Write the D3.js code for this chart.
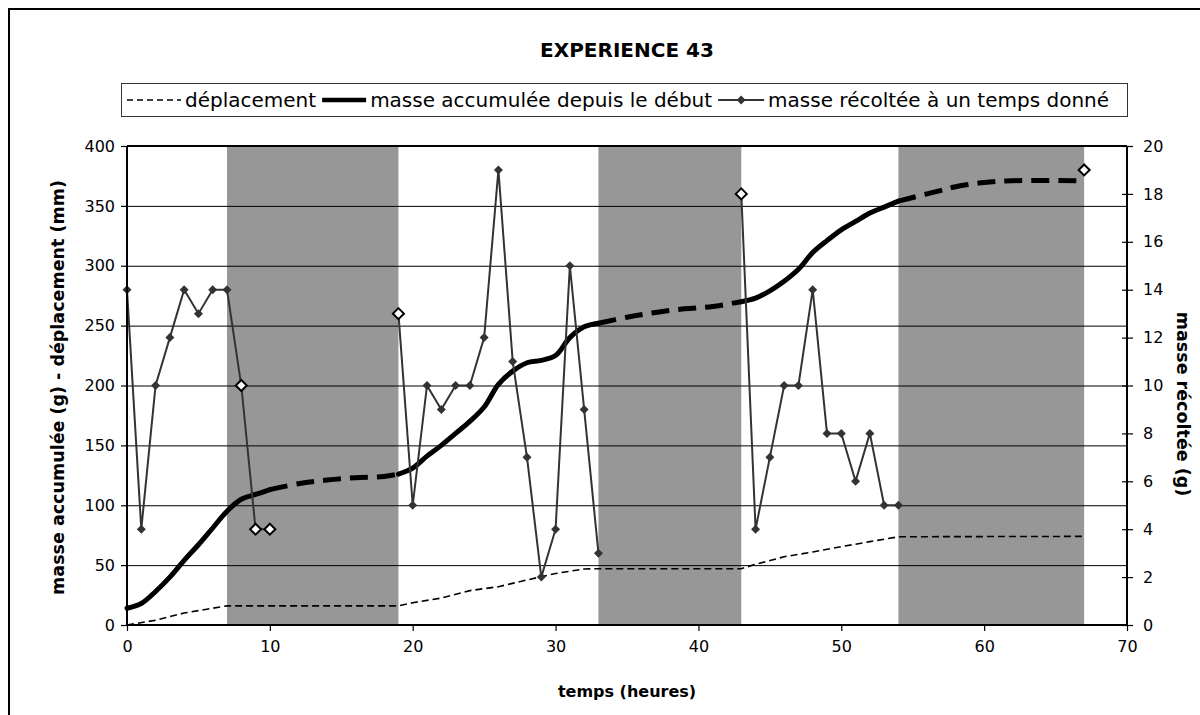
<!DOCTYPE html>
<html>
<head>
<meta charset="utf-8">
<script src="https://cdn.jsdelivr.net/npm/d3@7"></script>
<style>
  body { margin: 0; background: #fff; }
  text { font-family: "DejaVu Sans", Verdana, sans-serif; fill: #000; }
</style>
</head>
<body>
<script>
// periodes grisees (heures debut / fin)
var bandesDebut = [7, 33, 54];
var bandesFin = [19, 43, 67];

// masse recoltee a un temps donne (g) - axe de droite
var recolteHeures = [0,1,2,3,4,5,6,7,8,9,10, 19,20,21,22,23,24,25,26,27,28,29,30,31,32,33, 43,44,45,46,47,48,49,50,51,52,53,54, 67];
var recolteMasse  = [14,4,10,12,14,13,14,14,10,4,4, 13,5,10,9,10,10,12,19,11,7,2,4,15,9,3, 18,4,7,10,10,14,8,8,6,8,5,5, 19];
var recolteOuvert = [8, 9, 10, 19, 43, 67];

// masse accumulee depuis le debut (g) - trait plein
var cumulHeures = [0,1,2,3,4,5,6,7,8,9,10, 19,20,21,22,23,24,25,26,27,28,29,30,31,32,33, 43,44,45,46,47,48,49,50,51,52,53,54];
var cumulMasse  = [14,18,28,40,54,67,81,95,105,109,113, 126,131,141,150,160,170,182,201,212,219,221,225,240,249,252, 270,273,279,287,297,311,321,330,337,344,349,354];

// masse accumulee - estimation pendant les periodes grisees (pointilles)
var estimHeures1 = [10, 12, 14, 16, 18, 19];
var estimMasse1  = [113, 118, 121, 123, 124, 126];
var estimHeures2 = [33, 35, 37, 39, 41, 43];
var estimMasse2  = [252, 257, 261, 264, 266, 270];
var estimHeures3 = [54, 55, 57, 58, 60, 62, 67];
var estimMasse3  = [354, 357, 363, 366, 369.5, 371, 371];

// deplacement (mm)
var deplHeures = [0, 2, 4, 5, 7, 19, 20, 22, 24, 26, 28, 30, 32, 33, 43, 44, 46, 48, 50, 52, 54, 67];
var deplValeur = [0, 4, 10, 12, 16, 16, 18.6, 22.5, 28.7, 32, 37.6, 43, 46.8, 47, 47, 50.7, 57, 61, 65.4, 69.6, 73.7, 74];

var ticksX = [0, 10, 20, 30, 40, 50, 60, 70];
var ticksGauche = [0, 50, 100, 150, 200, 250, 300, 350, 400];
var ticksDroite = [0, 2, 4, 6, 8, 10, 12, 14, 16, 18, 20];

var W = 1200, H = 715;
var pL = 127, pR = 1127, pT = 146, pB = 625;

var x = d3.scaleLinear().domain([0, 70]).range([pL, pR]);
var yG = d3.scaleLinear().domain([0, 400]).range([pB, pT]);
var yD = d3.scaleLinear().domain([0, 20]).range([pB, pT]);

var svg = d3.select('body').append('svg')
  .attr('width', W)
  .attr('height', H);

// cadre exterieur
svg.append('path')
  .attr('d', 'M9,' + (H + 5) + ' L9,9 L' + (W + 5) + ',9')
  .attr('fill', 'none')
  .attr('stroke', '#000')
  .attr('stroke-width', 2);

// titre
svg.append('text')
  .attr('x', 627)
  .attr('y', 57)
  .attr('text-anchor', 'middle')
  .style('font-size', '20px')
  .style('font-weight', 'bold')
  .text('EXPERIENCE 43');

var plot = svg.append('g');

// bandes grises
plot.selectAll('.bande')
  .data(bandesDebut)
  .enter()
    .append('rect')
    .attr('x', function(d){ return x(d); })
    .attr('y', pT)
    .attr('width', function(d, i){ return x(bandesFin[i]) - x(d); })
    .attr('height', pB - pT)
    .attr('fill', '#979797');

// quadrillage
plot.append('g')
  .attr('transform', 'translate(' + pL + ',0)')
  .call(d3.axisLeft(yG).tickValues(ticksGauche.slice(1, -1)).tickSize(-(pR - pL)).tickFormat(''))
  .call(function(g){
    g.select('.domain').remove();
    g.selectAll('line').attr('stroke', '#000').attr('stroke-width', 1);
  });

function points(hs, vs){
  return hs.map(function(h, i){ return [h, vs[i]]; });
}

// deplacement
var ligneG = d3.line()
  .x(function(d){ return x(d[0]); })
  .y(function(d){ return yG(d[1]); });

plot.append('path')
  .datum(points(deplHeures, deplValeur))
  .attr('d', ligneG)
  .attr('fill', 'none')
  .attr('stroke', '#000')
  .attr('stroke-width', 1.6)
  .attr('stroke-dasharray', '7,4');

// masse accumulee
var courbe = d3.line()
  .x(function(d){ return x(d[0]); })
  .y(function(d){ return yG(d[1]); })
  .curve(d3.curveCatmullRom.alpha(0.5));

[[estimHeures1, estimMasse1], [estimHeures2, estimMasse2], [estimHeures3, estimMasse3]].forEach(function(s){
  plot.append('path')
    .datum(points(s[0], s[1]))
    .attr('d', courbe)
    .attr('fill', 'none')
    .attr('stroke', '#000')
    .attr('stroke-width', 5)
    .attr('stroke-dasharray', '18,9');
});

// segments pleins (heures consecutives)
function segments(hs, vs){
  var out = [], cur = [];
  hs.forEach(function(h, i){
    if(i > 0 && h - hs[i - 1] > 1){ out.push(cur); cur = []; }
    cur.push([h, vs[i]]);
  });
  out.push(cur);
  return out;
}

segments(cumulHeures, cumulMasse).forEach(function(seg){
  plot.append('path')
    .datum(seg)
    .attr('d', courbe)
    .attr('fill', 'none')
    .attr('stroke', '#000')
    .attr('stroke-width', 5)
    .attr('stroke-linecap', 'round');
});

// masse recoltee
var ligneD = d3.line()
  .x(function(d){ return x(d[0]); })
  .y(function(d){ return yD(d[1]); });

segments(recolteHeures, recolteMasse).forEach(function(seg){
  plot.append('path')
    .datum(seg)
    .attr('d', ligneD)
    .attr('fill', 'none')
    .attr('stroke', '#333')
    .attr('stroke-width', 2);
});

function losange(r){
  return 'M0,' + (-r) + 'L' + r + ',0L0,' + r + 'L' + (-r) + ',0Z';
}

plot.selectAll('.marque')
  .data(points(recolteHeures, recolteMasse))
  .enter()
    .append('path')
    .attr('transform', function(d){ return 'translate(' + x(d[0]) + ',' + yD(d[1]) + ')'; })
    .attr('d', function(d){ return recolteOuvert.indexOf(d[0]) >= 0 ? losange(5.5) : losange(4.5); })
    .attr('fill', function(d){ return recolteOuvert.indexOf(d[0]) >= 0 ? '#fff' : '#333'; })
    .attr('stroke', function(d){ return recolteOuvert.indexOf(d[0]) >= 0 ? '#000' : 'none'; })
    .attr('stroke-width', 2);

// axes
var axeX = svg.append('g')
  .attr('transform', 'translate(0,' + pB + ')')
  .call(d3.axisBottom(x).tickValues(ticksX).tickSize(6).tickPadding(10));

var axeG = svg.append('g')
  .attr('transform', 'translate(' + pL + ',0)')
  .call(d3.axisLeft(yG).tickValues(ticksGauche).tickSize(6).tickPadding(6));

var axeD = svg.append('g')
  .attr('transform', 'translate(' + pR + ',0)')
  .call(d3.axisRight(yD).tickValues(ticksDroite).tickSize(6).tickPadding(10));

[axeX, axeG, axeD].forEach(function(a){
  a.select('.domain').attr('stroke', '#000').attr('stroke-width', 2);
  a.selectAll('.tick line').attr('stroke', '#000').attr('stroke-width', 1.2);
  a.selectAll('.tick text')
    .style('font-family', '"DejaVu Sans", Verdana, sans-serif')
    .style('font-size', '16px')
    .attr('fill', '#000');
});
axeD.selectAll('.tick line').attr('x1', -5);
axeX.select('.domain').attr('d', 'M' + pL + ',0H' + pR);
axeG.select('.domain').attr('d', 'M0,' + pT + 'V' + pB);
axeD.select('.domain').attr('d', 'M0,' + pT + 'V' + pB);

// bord superieur de la zone de trace
svg.append('line')
  .attr('x1', pL).attr('x2', pR)
  .attr('y1', pT).attr('y2', pT)
  .attr('stroke', '#000')
  .attr('stroke-width', 2);

// titres des axes
svg.append('text')
  .attr('x', 627)
  .attr('y', 697)
  .attr('text-anchor', 'middle')
  .style('font-size', '16px')
  .style('font-weight', 'bold')
  .text('temps (heures)');

svg.append('text')
  .attr('transform', 'translate(64,' + ((pT + pB) / 2 + 2) + ') rotate(-90)')
  .attr('text-anchor', 'middle')
  .style('font-size', '17.5px')
  .style('font-weight', 'bold')
  .text('masse accumulée (g) - déplacement (mm)');

svg.append('text')
  .attr('transform', 'translate(1177,404) rotate(90)')
  .attr('text-anchor', 'middle')
  .style('font-size', '17.5px')
  .style('font-weight', 'bold')
  .text('masse récoltée (g)');

// legende
var legende = svg.append('g');
legende.append('rect')
  .attr('x', 121.5).attr('y', 83.5)
  .attr('width', 1006).attr('height', 33)
  .attr('fill', '#fff')
  .attr('stroke', '#333')
  .attr('stroke-width', 1);

var lx = 127, ly = 100;
function texteLegende(t){
  var el = legende.append('text')
    .attr('x', lx)
    .attr('y', ly + 7)
    .style('font-size', '20px')
    .text(t);
  lx += el.node().getComputedTextLength() + 6;
}

legende.append('line')
  .attr('x1', lx).attr('x2', lx + 54).attr('y1', ly).attr('y2', ly)
  .attr('stroke', '#000').attr('stroke-width', 1.6).attr('stroke-dasharray', '6,4');
lx += 58;
texteLegende('déplacement');

legende.append('line')
  .attr('x1', lx).attr('x2', lx + 44).attr('y1', ly).attr('y2', ly)
  .attr('stroke', '#000').attr('stroke-width', 4.5);
lx += 48;
texteLegende('masse accumulée depuis le début');

legende.append('line')
  .attr('x1', lx).attr('x2', lx + 46).attr('y1', ly).attr('y2', ly)
  .attr('stroke', '#333').attr('stroke-width', 2);
legende.append('path')
  .attr('transform', 'translate(' + (lx + 23) + ',' + ly + ')')
  .attr('d', losange(4.5))
  .attr('fill', '#333');
lx += 50;
texteLegende('masse récoltée à un temps donné');
</script>
</body>
</html>
